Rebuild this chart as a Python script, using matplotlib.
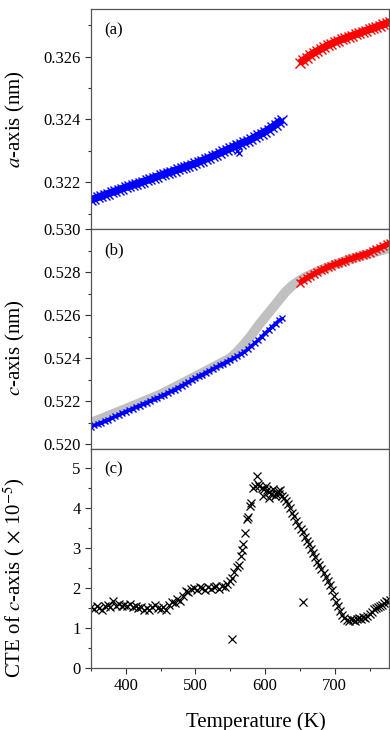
import numpy as np
import matplotlib
matplotlib.use("Agg")
import matplotlib.pyplot as plt
from matplotlib.ticker import MultipleLocator, FormatStrFormatter

plt.rcParams['font.family'] = ['Liberation Serif', 'DejaVu Serif']
plt.rcParams['mathtext.fontset'] = 'stix'

# ---------- data ----------
# (a) a-axis, low temperature phase (blue) and high temperature phase (red)
T_lo = np.arange(350, 630, 5)
a_lo = [0.32144, 0.32148, 0.32152, 0.32156, 0.32160, 0.32164, 0.32168, 0.32172,
        0.32176, 0.32180, 0.32184, 0.32188, 0.32191, 0.32195, 0.32198, 0.32202,
        0.32206, 0.32210, 0.32214, 0.32218, 0.32222, 0.32226, 0.32230, 0.32233,
        0.32237, 0.32241, 0.32245, 0.32249, 0.32253, 0.32256, 0.32260, 0.32265,
        0.32269, 0.32274, 0.32278, 0.32283, 0.32288, 0.32293, 0.32298, 0.32303,
        0.32308, 0.32313, 0.32318, 0.32323, 0.32328, 0.32331, 0.32337, 0.32343,
        0.32349, 0.32355, 0.32361, 0.32368, 0.32375, 0.32383, 0.32391, 0.32399]
T_a_out = [558, 560, 562, 563]
a_out = [0.32322, 0.32300, 0.32292, 0.32315]

T_hi = np.arange(650, 785, 5)
a_hi = [0.32580, 0.32588, 0.32597, 0.32605, 0.32612, 0.32618, 0.32624, 0.32630,
        0.32636, 0.32641, 0.32646, 0.32651, 0.32655, 0.32659, 0.32663, 0.32667,
        0.32671, 0.32675, 0.32679, 0.32683, 0.32687, 0.32691, 0.32695, 0.32699,
        0.32703, 0.32707, 0.32711]

# (b) c-axis
c_lo = [0.52082, 0.52088, 0.52095, 0.52101, 0.52108, 0.52115, 0.52122, 0.52129,
        0.52137, 0.52144, 0.52152, 0.52159, 0.52166, 0.52173, 0.52180, 0.52187,
        0.52194, 0.52201, 0.52208, 0.52215, 0.52222, 0.52230, 0.52238, 0.52246,
        0.52254, 0.52263, 0.52271, 0.52280, 0.52289, 0.52298, 0.52307, 0.52316,
        0.52324, 0.52333, 0.52341, 0.52350, 0.52358, 0.52367, 0.52375, 0.52384,
        0.52392, 0.52400, 0.52408, 0.52418, 0.52428, 0.52441, 0.52455, 0.52469,
        0.52483, 0.52499, 0.52515, 0.52530, 0.52545, 0.52560, 0.52575, 0.52585]
c_hi = [0.52750, 0.52762, 0.52772, 0.52782, 0.52791, 0.52800, 0.52808, 0.52816,
        0.52823, 0.52830, 0.52836, 0.52842, 0.52848, 0.52853, 0.52859, 0.52864,
        0.52870, 0.52875, 0.52880, 0.52885, 0.52890, 0.52900, 0.52906, 0.52913,
        0.52920, 0.52928, 0.52935]
T_fit = [350, 400, 450, 500, 550, 560, 570, 580, 590, 600, 610, 620, 630, 640,
         650, 660, 680, 700, 720, 740, 760, 780]
c_fit = [0.52100, 0.52165, 0.52232, 0.52315, 0.52400, 0.52430, 0.52465, 0.52505,
         0.52550, 0.52590, 0.52630, 0.52670, 0.52710, 0.52740, 0.52762, 0.52780,
         0.52810, 0.52835, 0.52858, 0.52878, 0.52895, 0.52912]

# (c) CTE of c-axis (x 10^-5)
T_cte = [350, 354, 358, 362, 366, 370, 374, 378, 382, 386, 390, 394, 398, 402,
         406, 410, 414, 418, 422, 426, 430, 434, 438, 442, 446, 450, 454, 458,
         462, 466, 470, 474, 478, 482, 486, 490, 494, 498, 502, 506, 510, 514,
         518, 522, 526, 530, 534, 538, 542, 546, 550, 553, 556, 559, 562, 565,
         567, 569, 571, 574, 576, 578, 580, 583, 585, 588, 590, 592, 595, 597,
         598, 601, 603, 605, 606, 609, 612, 614, 615, 618, 620, 621, 624, 627,
         630, 633, 636, 639, 642, 645, 648, 651, 654, 657, 660, 663, 666, 669,
         672, 675, 678, 681, 684, 687, 690, 693, 696, 699, 702, 705, 708, 711,
         714, 717, 720, 723, 726, 729, 732, 735, 738, 741, 744, 747, 750, 753,
         756, 759, 762, 765, 768, 771, 774, 777, 780, 553, 654]
cte = [1.52, 1.48, 1.55, 1.50, 1.45, 1.55, 1.58, 1.52, 1.68, 1.55, 1.60, 1.56,
       1.58, 1.55, 1.60, 1.52, 1.56, 1.50, 1.53, 1.46, 1.50, 1.45, 1.52, 1.58,
       1.50, 1.47, 1.52, 1.45, 1.58, 1.65, 1.62, 1.72, 1.68, 1.80, 1.92, 1.90,
       1.98, 2.00, 1.95, 2.02, 2.00, 1.95, 2.03, 1.98, 2.02, 2.05, 1.98, 2.06,
       2.03, 2.10, 2.18, 2.25, 2.40, 2.52, 2.58, 2.80, 2.95, 3.10, 3.38, 3.72,
       3.78, 4.05, 4.12, 4.50, 4.55, 4.80, 4.60, 4.55, 4.50, 4.30, 4.48, 4.55,
       4.45, 4.25, 4.40, 4.35, 4.48, 4.30, 4.35, 4.42, 4.35, 4.45, 4.30, 4.25,
       4.18, 4.10, 4.00, 3.88, 3.80, 3.68, 3.58, 3.48, 3.40, 3.28, 3.18, 3.10,
       2.98, 2.88, 2.78, 2.65, 2.58, 2.48, 2.38, 2.28, 2.18, 2.08, 1.95, 1.80,
       1.65, 1.55, 1.42, 1.32, 1.25, 1.20, 1.18, 1.22, 1.20, 1.18, 1.22, 1.25,
       1.22, 1.28, 1.25, 1.30, 1.35, 1.40, 1.48, 1.50, 1.52, 1.55, 1.58, 1.62,
       1.68, 1.65, 1.70, 0.72, 1.64]

BLUE, RED = '#0000ff', '#ff0000'

# ---------- figure ----------
fig = plt.figure(figsize=(3.9, 7.3), dpi=100)
W, H = 390.0, 730.0
left, right = 91 / W, 389 / W
axA = fig.add_axes([left, 1 - 229 / H, right - left, 220 / H])
axB = fig.add_axes([left, 1 - 449 / H, right - left, 220 / H])
axC = fig.add_axes([left, 1 - 668 / H, right - left, 219 / H])


def band(ax, x, y, color, lw, ms):
    # dense crosses: a solid core plus the x markers on top
    ax.plot(x, y, color=color, linewidth=lw, solid_capstyle='butt')
    ax.plot(x, y, color=color, linestyle='none', marker='x',
            markersize=ms, markeredgewidth=1.0)


band(axA, T_lo, a_lo, BLUE, 5.5, 6.5)
axA.plot(T_a_out, a_out, color=BLUE, linestyle='none', marker='x',
         markersize=5, markeredgewidth=1.0)
band(axA, T_hi, a_hi, RED, 5.5, 6.5)
axA.set_ylim(0.32051, 0.32752)
axA.set_yticks([0.322, 0.324, 0.326])
axA.set_yticklabels(['0.322', '0.324', '0.326'])
axA.yaxis.set_minor_locator(MultipleLocator(0.001))
axA.set_ylabel('$a$-axis (nm)', fontsize=15)

axB.plot(T_fit, c_fit, color='#c0c0c0', linewidth=7, solid_capstyle='butt')
band(axB, T_lo, c_lo, BLUE, 2.5, 4)
band(axB, T_hi, c_hi, RED, 4, 6)
axB.set_ylim(0.51978, 0.530)
axB.yaxis.set_major_locator(MultipleLocator(0.002))
axB.yaxis.set_minor_locator(MultipleLocator(0.001))
axB.yaxis.set_major_formatter(FormatStrFormatter('%.3f'))
axB.set_ylabel('$c$-axis (nm)', fontsize=15)

axC.plot(T_cte, cte, color='black', linestyle='none', marker='x',
         markersize=6, markeredgewidth=0.9)
axC.set_ylim(0, 5.47)
axC.yaxis.set_major_locator(MultipleLocator(1))
axC.yaxis.set_minor_locator(MultipleLocator(0.5))
axC.set_ylabel(r'CTE of $c$-axis ( $\times$ 10$^{-5}$)', fontsize=15)
axC.set_xlabel('Temperature (K)', fontsize=15)

for ax, lab in zip([axA, axB, axC], ['(a)', '(b)', '(c)']):
    ax.set_xlim(350, 778)
    ax.xaxis.set_major_locator(MultipleLocator(100))
    ax.xaxis.set_minor_locator(MultipleLocator(50))
    ax.tick_params(which='both', direction='out', colors='#333333',
                   labelcolor='black', labelsize=12, top=False, right=False)
    ax.tick_params(which='major', length=4, width=0.8)
    ax.tick_params(which='minor', length=2.5, width=0.8)
    for s in ax.spines.values():
        s.set_color('#555555')
        s.set_linewidth(0.9)
    ax.text(0.045, 0.905, lab, transform=ax.transAxes, fontsize=12,
            ha='left', va='center')
    if ax is not axC:
        ax.tick_params(labelbottom=False)

axA.yaxis.set_label_coords(-0.215, 0.5)
axB.yaxis.set_label_coords(-0.215, 0.46)
axC.yaxis.set_label_coords(-0.215, 0.41)
axC.xaxis.set_label_coords(0.554, -0.2)

fig.savefig('out.png', dpi=100)
